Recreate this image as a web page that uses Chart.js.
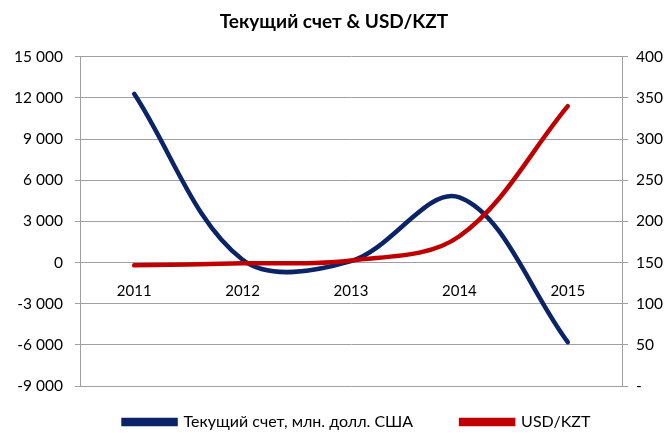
<!DOCTYPE html>
<html>
<head>
<meta charset="utf-8">
<script src="https://cdn.jsdelivr.net/npm/chart.js@4"></script>
<style>
  body { margin: 0; background: #fff; }
  #wrap { width: 668px; height: 433px; }
</style>
</head>
<body>
<div id="wrap"><canvas id="chart"></canvas></div>
<script>
// data
const years = ['2011', '2012', '2013', '2014', '2015'];
const currentAccount = [12300, 200, 100, 4750, -5800];   // млн. долл. США
const usdKzt = [146.6, 149, 152.5, 182, 340];

const NAVY = '#0b2367';
const RED = '#c00000';
const GRID = '#9f9f9f';
const FONT = 'Lato, "Open Sans", sans-serif';

// "15 000" style
function fmtThousands(v) {
    const s = Math.abs(v).toString().replace(/\B(?=(\d{3})+(?!\d))/g, ' ');
    return (v < 0 ? '-' : '') + s;
}

// legend padding sets both the gap between items and the space above them,
// so the box is pulled up (and nudged right) after layout
const legendShift = {
    id: 'legendShift',
    afterLayout(chart) {
        const lg = chart.legend;
        if (!lg) return;
        lg.top -= 20;
        lg.bottom = chart.height;
        lg.height = lg.bottom - lg.top;
        lg.left += 46;
        lg.width = lg.right - lg.left;
    }
};

new Chart(document.getElementById('chart'), {
    type: 'line',
    data: {
        labels: years,
        datasets: [{
            label: 'Текущий счет, млн. долл. США',
            data: currentAccount,
            yAxisID: 'y',
            borderColor: NAVY,
            backgroundColor: NAVY,
            borderWidth: 4.5,
            pointRadius: 0,
            tension: 0.35,
            borderCapStyle: 'round',
            order: 1
        }, {
            label: 'USD/KZT',
            data: usdKzt,
            yAxisID: 'y1',
            borderColor: RED,
            backgroundColor: RED,
            borderWidth: 4.5,
            pointRadius: 0,
            tension: 0.35,
            borderCapStyle: 'round',
            order: 0
        }]
    },
    options: {
        responsive: true,
        maintainAspectRatio: false,
        animation: false,
        layout: { padding: 0 },
        scales: {
            x: {
                position: { y: 0 },
                offset: true,
                grid: { display: false },
                border: { display: false },
                ticks: { color: '#000', font: { family: FONT, size: 15 }, padding: 12 }
            },
            y: {
                position: 'left',
                min: -9000,
                max: 15000,
                afterFit: s => { s.width = 80; },
                grid: { color: GRID, tickLength: 5 },
                border: { color: GRID },
                ticks: {
                    stepSize: 3000,
                    color: '#000',
                    padding: 12,
                    font: { family: FONT, size: 15.5 },
                    callback: v => fmtThousands(v)
                }
            },
            y1: {
                position: 'right',
                min: 0,
                max: 400,
                afterFit: s => { s.width = 46; },
                grid: { drawOnChartArea: false, color: GRID, tickLength: 6 },
                border: { color: GRID },
                ticks: {
                    stepSize: 50,
                    color: '#000',
                    padding: 8,
                    font: { family: FONT, size: 15.5 },
                    callback: v => v === 0 ? '-' : v
                }
            }
        },
        plugins: {
            title: {
                display: true,
                text: 'Текущий счет & USD/KZT',
                color: '#000',
                font: { family: FONT, size: 19, weight: 'bold' },
                padding: { top: 10, bottom: 24 }
            },
            legend: {
                position: 'bottom',
                maxHeight: 47,
                labels: {
                    color: '#000',
                    font: { family: FONT, size: 16 },
                    boxWidth: 52,
                    boxHeight: 4,
                    padding: 48,
                    sort: (a, b) => a.datasetIndex - b.datasetIndex
                }
            },
            tooltip: { enabled: false }
        }
    },
    plugins: [legendShift]
});
</script>
</body>
</html>
